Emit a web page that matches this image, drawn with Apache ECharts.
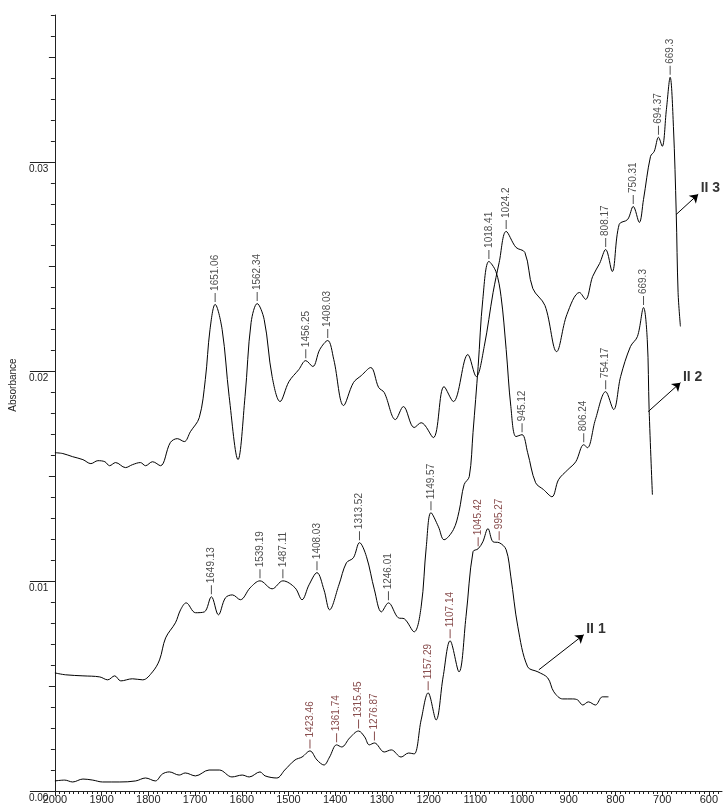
<!DOCTYPE html>
<html>
<head>
<meta charset="utf-8">
<script src="https://cdn.jsdelivr.net/npm/echarts@6/dist/echarts.min.js"></script>
<style>
  html, body { margin: 0; padding: 0; background: #fff; }
  #chart { width: 724px; height: 808px; }
</style>
</head>
<body>
<div id="chart"></div>
<script>
// spectra, [wavenumber (cm-1), absorbance]
var spec1 = [
  [2000,0.00048],[1979,0.00052],[1962,0.00043],[1940,0.00057],[1919,0.00052],[1898,0.00043],[1861,0.00043],
  [1827,0.00048],[1806,0.00062],[1785,0.00048],[1770,0.00081],[1755,0.00091],[1734,0.00076],[1721,0.00086],
  [1699,0.00072],[1670,0.00100],[1648,0.00100],[1621,0.00067],[1599,0.00076],[1584,0.00067],[1561,0.00091],
  [1550,0.00072],[1525,0.00062],[1508,0.00100],[1486,0.00148],[1471,0.00162],[1454,0.00191],[1439,0.00148],
  [1424,0.00124],[1412,0.00162],[1397,0.00220],[1386,0.00210],[1369,0.00253],[1350,0.00286],[1337,0.00258],
  [1327,0.00220],[1316,0.00229],[1295,0.00186],[1280,0.00196],[1259,0.00162],[1243,0.00181],[1231,0.00177],
  [1216,0.00339],[1201,0.00468],[1184,0.00339],[1169,0.00544],[1154,0.00716],[1135,0.00568],[1120,0.00831],
  [1105,0.01141],[1094,0.01155],[1084,0.01188],[1073,0.01251],[1062,0.01188],[1049,0.01184],[1034,0.01150],
  [1024,0.01021],[1009,0.00783],[988,0.00592],[966,0.00568],[945,0.00539],[932,0.00473],[913,0.00439],
  [892,0.00439],[881,0.00434],[870,0.00410],[858,0.00425],[843,0.00410],[828,0.00449],[815,0.00449]
];
var spec2 = [
  [2000,0.00563],[1977,0.00554],[1940,0.00549],[1904,0.00544],[1887,0.00530],[1872,0.00549],[1859,0.00525],
  [1834,0.00535],[1812,0.00530],[1791,0.00568],[1776,0.00625],[1763,0.00730],[1742,0.00802],[1731,0.00864],
  [1719,0.00897],[1699,0.00850],[1680,0.00854],[1665,0.00926],[1650,0.00840],[1635,0.00921],[1620,0.00935],
  [1603,0.00912],[1582,0.00969],[1561,0.01002],[1535,0.00964],[1512,0.01002],[1486,0.00969],[1471,0.00912],
  [1456,0.00983],[1439,0.01041],[1424,0.00959],[1412,0.00864],[1392,0.00983],[1376,0.01088],[1361,0.01112],
  [1348,0.01184],[1333,0.01117],[1316,0.00959],[1301,0.00854],[1286,0.00897],[1265,0.00826],[1252,0.00821],
  [1231,0.00759],[1216,0.00878],[1205,0.01165],[1195,0.01327],[1179,0.01260],[1167,0.01198],[1147,0.01246],
  [1135,0.01332],[1124,0.01461],[1113,0.01499],[1105,0.01709],[1094,0.02024],[1084,0.02344],[1071,0.02525],
  [1056,0.02477],[1045,0.02358],[1034,0.02105],[1024,0.01833],[1013,0.01690],[1000,0.01699],[988,0.01613],
  [971,0.01470],[954,0.01437],[936,0.01403],[922,0.01484],[902,0.01532],[885,0.01570],[868,0.01651],
  [860,0.01637],[843,0.01771],[821,0.01904],[804,0.01819],[789,0.01976],[768,0.02119],[753,0.02167],
  [740,0.02305],[732,0.02153],[728,0.01819],[721,0.01413]
];
var spec3 = [
  [2000,0.01613],[1983,0.01609],[1962,0.01594],[1940,0.01580],[1923,0.01561],[1908,0.01575],[1893,0.01570],
  [1883,0.01551],[1870,0.01566],[1849,0.01542],[1834,0.01556],[1817,0.01566],[1806,0.01551],[1791,0.01570],
  [1774,0.01551],[1753,0.01661],[1738,0.01680],[1723,0.01666],[1710,0.01713],[1691,0.01780],[1678,0.01962],
  [1668,0.02200],[1657,0.02320],[1642,0.02200],[1627,0.01881],[1608,0.01580],[1593,0.01881],[1580,0.02234],
  [1567,0.02324],[1552,0.02248],[1535,0.01976],[1518,0.01857],[1499,0.01952],[1478,0.02009],[1463,0.02052],
  [1448,0.02024],[1433,0.02105],[1416,0.02148],[1403,0.02057],[1382,0.01838],[1361,0.01947],[1344,0.01981],
  [1324,0.02019],[1307,0.01924],[1295,0.01900],[1271,0.01771],[1254,0.01833],[1231,0.01733],[1216,0.01756],
  [1190,0.01685],[1167,0.01928],[1147,0.01857],[1116,0.02081],[1098,0.01976],[1081,0.02119],[1062,0.02377],
  [1049,0.02520],[1034,0.02668],[1013,0.02592],[994,0.02568],[977,0.02396],[951,0.02315],[926,0.02095],
  [904,0.02272],[877,0.02377],[864,0.02344],[849,0.02453],[834,0.02515],[821,0.02582],[807,0.02477],
  [792,0.02702],[774,0.02725],[762,0.02787],[749,0.02711],[740,0.02821],[725,0.03026],[717,0.03050],
  [708,0.03117],[700,0.03074],[691,0.03250],[683,0.03403],[676,0.03169],[670,0.02759],[666,0.02377],
  [661,0.02215]
];

// peak picks, [wavenumber, absorbance, printed label]
var peaks1 = [
  [1454,0.00191,'1423.46'],[1397,0.00220,'1361.74'],[1350,0.00286,'1315.45'],[1316,0.00229,'1276.87'],
  [1201,0.00468,'1157.29'],[1154,0.00716,'1107.14'],[1094,0.01155,'1045.42'],[1049,0.01184,'995.27']
];
var peaks2 = [
  [1665,0.00926,'1649.13'],[1561,0.01002,'1539.19'],[1512,0.01002,'1487.11'],[1439,0.01041,'1408.03'],
  [1348,0.01184,'1313.52'],[1286,0.00897,'1246.01'],[1195,0.01327,'1149.57'],[1071,0.02525,'1018.41'],
  [1000,0.01699,'945.12'],[868,0.01651,'806.24'],[821,0.01904,'754.17'],[740,0.02305,'669.3']
];
var peaks3 = [
  [1657,0.02320,'1651.06'],[1567,0.02324,'1562.34'],[1463,0.02052,'1456.25'],[1416,0.02148,'1408.03'],
  [1034,0.02668,'1024.2'],[821,0.02582,'808.17'],[762,0.02787,'750.31'],[708,0.03117,'694.37'],
  [683,0.03403,'669.3']
];

// sample tags with arrows: [from, to, text]
var tags = [
  [[964,0.00578],[868,0.00745],'II 1'],
  [[730,0.01809],[661,0.01947],'II 2'],
  [[670,0.02749],[623,0.02845],'II 3']
];

var xTicks = [2000,1900,1800,1700,1600,1500,1400,1300,1200,1100,1000,900,800,700,600];
var yTicks = [0, 0.01, 0.02, 0.03];
var yMidTicks = [0.005, 0.015, 0.025, 0.035];

var xMinor = [];
for (var w = 580; w <= 2000; w += 10) xMinor.push(w);
var yMinor = [];
for (var i = 0; i <= 37; i++) yMinor.push(+(i * 0.001).toFixed(3));

var FONT = 'Liberation Sans, Arial, sans-serif';
var X_MIN = 572, X_MAX = 2000, Y_MAX = 0.037;

function xAxisLayer(ticks, len, labels) {
  return {
    type: 'value', min: X_MIN, max: X_MAX, inverse: true, position: 'bottom',
    axisLine: { show: labels, lineStyle: { color: '#222', width: 1 } },
    axisTick: { show: true, customValues: ticks, length: len, lineStyle: { color: '#222' } },
    axisLabel: labels ? {
      customValues: ticks, margin: 3, fontSize: 11, color: '#222', fontFamily: FONT,
      formatter: function (v) { return String(v); }
    } : { show: false },
    splitLine: { show: false }
  };
}

function yAxisLayer(ticks, len, labels) {
  var ax = {
    type: 'value', min: 0, max: Y_MAX, position: 'left',
    axisLine: { show: labels, lineStyle: { color: '#222', width: 1 } },
    axisTick: { show: true, customValues: ticks, length: len, lineStyle: { color: '#222' } },
    axisLabel: { show: false },
    splitLine: { show: false }
  };
  if (labels) {
    ax.axisLabel = {
      show: true, customValues: ticks, margin: 26, align: 'left', verticalAlign: 'top',
      padding: [2, 0, 0, 0], fontSize: 10, color: '#222', fontFamily: FONT,
      formatter: function (v) { return v.toFixed(2); }
    };
    ax.name = 'Absorbance';
    ax.nameLocation = 'middle';
    ax.nameGap = 36;
    ax.nameRotate = 90;
    ax.nameTextStyle = { fontSize: 10, color: '#222', fontFamily: FONT, padding: [0, 0, 0, 36] };
  }
  return ax;
}

function spectrum(data, tag) {
  return {
    type: 'line', data: data, showSymbol: false, smooth: 0.35, silent: true,
    lineStyle: { color: '#000', width: 1 },
    markLine: {
      silent: true, symbol: ['none', 'arrow'], symbolSize: 8,
      lineStyle: { color: '#000', width: 1, type: 'solid' },
      label: { show: false },
      data: [[{ coord: tag[0] }, { coord: tag[1] }]]
    }
  };
}

function peakMarks(peaks, color) {
  return {
    type: 'scatter', silent: true, z: 3,
    data: peaks.map(function (p) { return { value: [p[0], p[1]], name: p[2] }; }),
    symbol: 'rect', symbolSize: [1, 9], symbolOffset: [0, -7],
    itemStyle: { color: color },
    label: {
      show: true, formatter: '{b}', position: 'top', distance: 2, rotate: 90,
      align: 'left', verticalAlign: 'middle', fontSize: 10, color: color, fontFamily: FONT
    }
  };
}

var tagLabels = {
  type: 'scatter', silent: true, z: 4,
  data: tags.map(function (t) { return { value: t[1], name: t[2] }; }),
  symbol: 'circle', symbolSize: 1,
  itemStyle: { color: 'rgba(0,0,0,0)' },
  label: {
    show: true, formatter: '{b}', position: 'right', distance: 2, offset: [0, -6],
    fontSize: 14, fontWeight: 'bold', color: '#000', fontFamily: FONT
  }
};

var chart = echarts.init(document.getElementById('chart'));
chart.setOption({
  animation: false,
  backgroundColor: '#fff',
  grid: { left: 52, right: 2, top: 15, bottom: 17, containLabel: false },
  xAxis: [
    xAxisLayer(xTicks, 5, true),
    xAxisLayer(xMinor, 3, false)
  ],
  yAxis: [
    yAxisLayer(yTicks, 25, true),
    yAxisLayer(yMidTicks, 6, false),
    yAxisLayer(yMinor, 4, false)
  ],
  series: [
    spectrum(spec1, tags[0]),
    spectrum(spec2, tags[1]),
    spectrum(spec3, tags[2]),
    peakMarks(peaks1, '#6a2020'),
    peakMarks(peaks2, '#222'),
    peakMarks(peaks3, '#222'),
    tagLabels
  ]
});
</script>
</body>
</html>
